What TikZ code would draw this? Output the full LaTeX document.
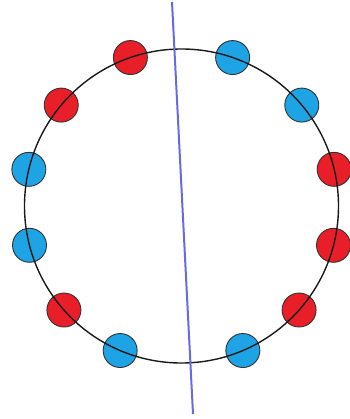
\documentclass[tikz,border=0pt]{standalone}
\usetikzlibrary{positioning,calc}
\definecolor{cherry}{RGB}{232,30,40}
\definecolor{sky}{RGB}{30,163,228}
\definecolor{cut}{RGB}{105,105,228}
\tikzset{
  bead/.style={circle,draw=black!80,line width=0.9pt,fill=#1,inner sep=0pt,minimum size=34pt},
  bead/.default=cherry,
  ring/.style={black!90,line width=1.4pt},
  split/.style={cut,line width=2pt},
}
\begin{document}
\begin{tikzpicture}[x=1pt,y=-1pt]
    \useasboundingbox (0,0) rectangle (349,419);
    \coordinate (o) at (181.5,206);
    \foreach \a/\c [count=\i] in {13.5/cherry,40/sky,71/sky,109/cherry,140/cherry,166.5/sky,
      194.5/sky,221.5/cherry,247/sky,293/sky,318.5/cherry,345.5/cherry}{
      \node[bead=\c] (b\i) at ($(o)+(-\a:157)$) {};
    }
    \draw[ring] (o) circle (157);
    \coordinate (top) at (172,2);
    \coordinate (bot) at (193,414);
    \draw[split] (top) -- (bot);
  \end{tikzpicture}
\end{document}
